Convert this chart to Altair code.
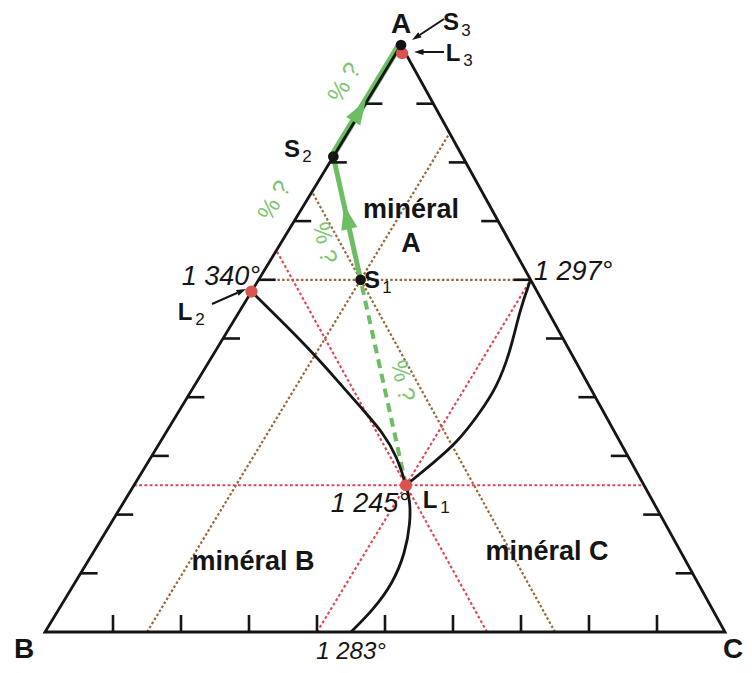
import math
import altair as alt
import pandas as pd

# ---------------- data (compositions = fractions of A, B, C) ----------------
S1 = [0.60, 0.25, 0.15]
S2 = [0.81, 0.19, 0.00]
S3 = [1.00, 0.00, 0.00]
L1 = [0.25, 0.35, 0.40]
L2 = [0.58, 0.42, 0.00]
L3 = [0.986, 0.005, 0.009]
T1297 = [0.60, 0.00, 0.40]
T1283 = [0.00, 0.55, 0.45]

tick_fractions = [0.1, 0.2, 0.3, 0.4, 0.5, 0.6, 0.7, 0.8, 0.9]

# cotectic curves: fraction A and fraction C
curve_L2_a = [0.58, 0.537, 0.486, 0.429, 0.378, 0.339, 0.298, 0.25]
curve_L2_c = [0.00, 0.060, 0.131, 0.205, 0.270, 0.320, 0.362, 0.40]
curve_AC_a = [0.60, 0.549, 0.475, 0.417, 0.373, 0.322, 0.288, 0.25]
curve_AC_c = [0.40, 0.411, 0.435, 0.446, 0.444, 0.437, 0.420, 0.40]
curve_BC_a = [0.25, 0.225, 0.186, 0.135, 0.084, 0.038, 0.00]
curve_BC_c = [0.40, 0.419, 0.440, 0.459, 0.468, 0.463, 0.45]

# ---------------- layout ----------------
W, H = 736, 657
UNIT = 680.0            # px per unit of base length
AX, AY = 356 / UNIT, 587 / UNIT   # apex position (slightly skewed as in the figure)
xmin = -37 / UNIT
xmax = xmin + W / UNIT
ymin = (624 - H) / UNIT
ymax = ymin + H / UNIT
FONT = "Liberation Sans"

BROWN = "#9a6736"
RED = "#e04454"
DOT_RED = "#d9534f"
GREEN = "#6cbd63"
GREEN_TXT = "#7cc572"
INK = "#151515"


def cart(p):
    a, b, c = p
    s = a + b + c
    a, c = a / s, c / s
    return c + a * AX, a * AY


def px(x, y):
    """reference-figure pixel -> data units (for annotation placement)"""
    return (x - 45) / UNIT, (632 - y) / UNIT


xs = alt.Scale(domain=[xmin, xmax], nice=False, zero=False)
ys = alt.Scale(domain=[ymin, ymax], nice=False, zero=False)


def rules(segs):
    rows = []
    for p, q in segs:
        x1, y1 = p
        x2, y2 = q
        rows.append({"x": x1, "y": y1, "x2": x2, "y2": y2})
    return pd.DataFrame(rows)


def rule_layer(df, **kw):
    return alt.Chart(df).mark_rule(**kw).encode(
        x=alt.X("x:Q", scale=xs, axis=None),
        y=alt.Y("y:Q", scale=ys, axis=None),
        x2="x2:Q", y2="y2:Q")


def line_layer(points, **kw):
    df = pd.DataFrame([{"x": x, "y": y, "o": i} for i, (x, y) in enumerate(points)])
    return alt.Chart(df).mark_line(**kw).encode(
        x=alt.X("x:Q", scale=xs, axis=None),
        y=alt.Y("y:Q", scale=ys, axis=None),
        order="o:Q")


def point_layer(points, **kw):
    df = pd.DataFrame([{"x": x, "y": y} for x, y in points])
    return alt.Chart(df).mark_point(**kw).encode(
        x=alt.X("x:Q", scale=xs, axis=None),
        y=alt.Y("y:Q", scale=ys, axis=None))


def text_layer(txt, pos, **kw):
    x, y = pos
    base = dict(font=FONT, color=INK)
    base.update(kw)
    return alt.Chart(pd.DataFrame({"t": [txt]})).mark_text(**base).encode(
        x=alt.X(datum=x, scale=xs, axis=None),
        y=alt.Y(datum=y, scale=ys, axis=None),
        text="t:N")


def direction_angle(p, q):
    (x1, y1), (x2, y2) = p, q
    ang = math.degrees(math.atan2(x2 - x1, y2 - y1))
    return ang % 360


layers = []

# guide lines through S1 (brown) and L1 (red)
def guides(p):
    a, b, c = p
    return [
        (cart((a, 1 - a, 0)), cart((a, 0, 1 - a))),
        (cart((0, 1 - c, c)), cart((1 - c, 0, c))),
        (cart((0, b, 1 - b)), cart((1 - b, b, 0))),
    ]

layers.append(rule_layer(rules(guides(S1)), color=BROWN, strokeWidth=2.2, strokeDash=[2.5, 2.2]))
layers.append(rule_layer(rules(guides(L1)), color=RED, strokeWidth=2.1, strokeDash=[2.8, 2.4]))

# green crystallisation path (under the frame)
layers.append(line_layer([cart(S2), cart(S3)], color=GREEN, strokeWidth=7, xOffset=-1.5))
layers.append(line_layer([cart(S1), cart(S2)], color=GREEN, strokeWidth=5))
layers.append(line_layer([cart(L1), cart(S1)], color=GREEN, strokeWidth=4, strokeDash=[9, 6]))

# triangle frame
A_, B_, C_ = cart((1, 0, 0)), cart((0, 1, 0)), cart((0, 0, 1))
layers.append(line_layer([B_, C_, A_, B_, C_], color=INK, strokeWidth=2.8, strokeJoin="miter"))

# ticks
TL = 17 / UNIT
tick_segs = []
for f in tick_fractions:
    lx, ly = cart((f, 1 - f, 0))
    tick_segs.append(((lx, ly), (lx + TL, ly)))
    rx, ry = cart((f, 0, 1 - f))
    tick_segs.append(((rx, ry), (rx - TL, ry)))
    bx, by = cart((0, 1 - f, f))
    tick_segs.append(((bx, by), (bx, by + TL)))
layers.append(rule_layer(rules(tick_segs), color=INK, strokeWidth=2.6))

# cotectic curves
for ca, cc in [(curve_L2_a, curve_L2_c), (curve_AC_a, curve_AC_c), (curve_BC_a, curve_BC_c)]:
    pts = [cart((a, 1 - a - c, c)) for a, c in zip(ca, cc)]
    layers.append(line_layer(pts, color=INK, strokeWidth=2.8, interpolate="basis"))

# green arrowheads
ARROW = "M0,-1.2L0.75,1L-0.75,1Z"
p1, p2 = cart(S1), cart(S2)
m1 = (p1[0] + 0.5 * (p2[0] - p1[0]), p1[1] + 0.5 * (p2[1] - p1[1]))
layers.append(point_layer([m1], shape=ARROW, size=480, filled=True, opacity=1, strokeWidth=0,
                          color=GREEN, angle=direction_angle(p1, p2)))
p3 = cart(S3)
m2 = (p2[0] + 0.4 * (p3[0] - p2[0]), p2[1] + 0.4 * (p3[1] - p2[1]))
layers.append(point_layer([m2], shape=ARROW, size=480, filled=True, opacity=1, strokeWidth=0,
                          color=GREEN, angle=direction_angle(p2, p3), xOffset=-1.5))

# dots
layers.append(point_layer([cart(L1), cart(L2), cart(L3)], shape="circle", size=150,
                          filled=True, opacity=1, color=DOT_RED))
layers.append(point_layer([cart(S1), cart(S2), cart(S3)], shape="circle", size=115,
                          filled=True, opacity=1, color=INK))

# black pointer arrows
HEAD = "M0,0L0.65,2L-0.65,2Z"
for (x0, y0), (x1, y1) in [((444, 19), (412, 40)), ((444, 52), (414, 52)), ((212, 304), (246, 289))]:
    a0, a1 = px(x0, y0), px(x1, y1)
    ang = direction_angle(a0, a1)
    back = (a1[0] - (a1[0] - a0[0]) * 0.25, a1[1] - (a1[1] - a0[1]) * 0.25)
    layers.append(rule_layer(rules([(a0, back)]), color=INK, strokeWidth=2))
    layers.append(point_layer([a1], shape=HEAD, size=90, filled=True, opacity=1, strokeWidth=0,
                              color=INK, angle=ang))

# ---------------- texts ----------------
big = dict(fontSize=28, fontWeight="bold", baseline="alphabetic", align="center")
layers.append(text_layer("A", px(401, 33), **big))
layers.append(text_layer("B", px(24, 658), **big))
layers.append(text_layer("C", px(733, 658), **big))

lab = dict(fontSize=24, fontWeight="bold", baseline="alphabetic", align="center")
sub = dict(fontSize=17, baseline="alphabetic", align="center")
for main, s, mpos, spos in [
    ("S", "3", (451, 30), (466, 36)),
    ("L", "3", (453, 61), (468, 66)),
    ("S", "2", (292, 157), (307, 162)),
    ("S", "1", (372, 288), (387, 293)),
    ("L", "2", (185, 320), (200, 325)),
    ("L", "1", (430, 508), (445, 513)),
]:
    layers.append(text_layer(main, px(*mpos), **lab))
    layers.append(text_layer(s, px(*spos), **sub))

mineral = dict(fontSize=27, fontWeight="bold", baseline="alphabetic", align="center")
layers.append(text_layer("minéral", px(411, 218), **mineral))
layers.append(text_layer("A", px(411, 252), **mineral))
layers.append(text_layer("minéral B", px(253, 570), **mineral))
layers.append(text_layer("minéral C", px(547, 560), **mineral))

temp = dict(fontSize=27, fontStyle="italic", baseline="alphabetic")
layers.append(text_layer("1 340°", px(260, 285), align="right", **temp))
layers.append(text_layer("1 297°", px(534, 280), align="left", **temp))
layers.append(text_layer("1 245°", px(409, 512), align="right", **temp))
layers.append(text_layer("1 283°", px(351, 659), align="center", fontSize=24,
                         fontStyle="italic", baseline="alphabetic"))

q = dict(fontSize=24, color=GREEN_TXT, baseline="middle", align="center")
edge_ang = (direction_angle(cart(S2), cart(S3)) - 90) % 360
seg_ang = (direction_angle(cart(S1), cart(S2)) + 90) % 360
dash_ang = (direction_angle(cart(L1), cart(S1)) + 90) % 360
layers.append(text_layer("% ?", px(345, 83), angle=edge_ang, **q))
layers.append(text_layer("% ?", px(275, 201), angle=edge_ang, **q))
layers.append(text_layer("% ?", px(324, 243), angle=seg_ang, **q))
layers.append(text_layer("% ?", px(402, 381), angle=dash_ang, **q))

chart = alt.layer(*layers).properties(
    width=W, height=H, padding=0, autosize=alt.AutoSizeParams(type="none"),
    background="white"
).configure_view(stroke=None)

chart.save("out.html", embed_options={"renderer": "svg", "actions": False})
